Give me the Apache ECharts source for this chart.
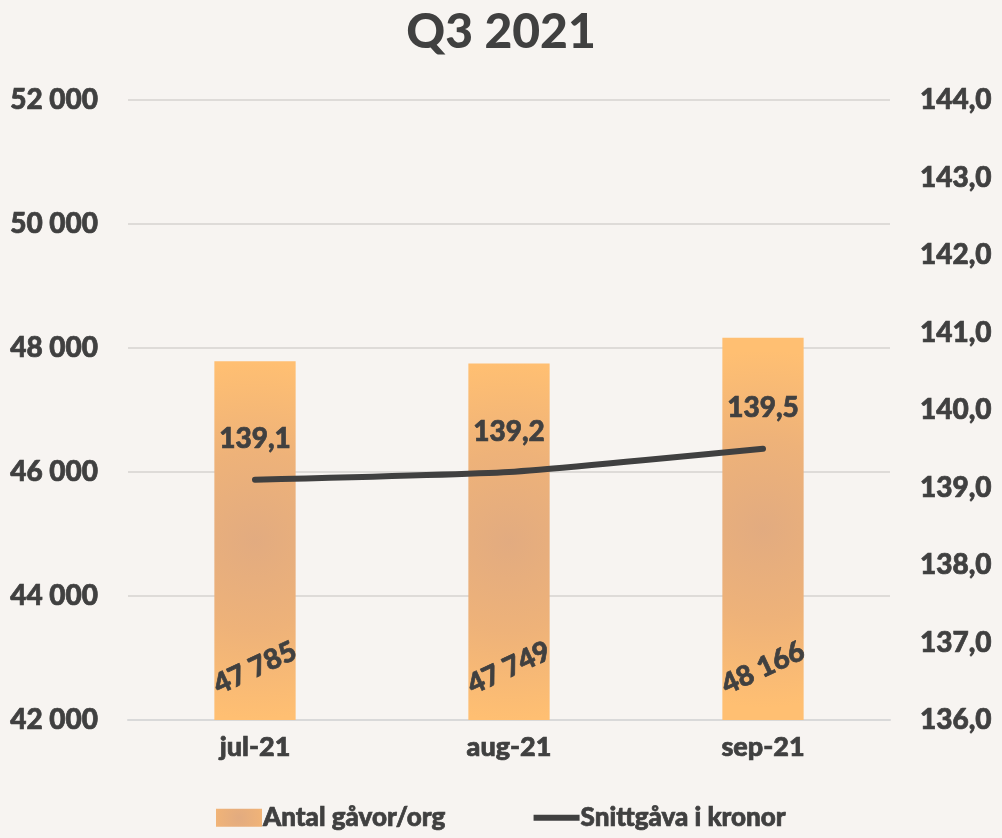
<!DOCTYPE html>
<html>
<head>
<meta charset="utf-8">
<script src="https://cdn.jsdelivr.net/npm/echarts@6/dist/echarts.min.js"></script>
<style>
  html, body { margin: 0; padding: 0; background: #f7f4f1; }
  #chart { width: 1002px; height: 838px; }
</style>
</head>
<body>
<div id="chart"></div>
<script>
var months = ['jul-21', 'aug-21', 'sep-21'];
var antalGavor = [47785, 47749, 48166];
var snittgava = [139.1, 139.2, 139.5];

var FONT = 'Lato';
var TXT = '#404040';

function fmtThousands(v) {
    return String(Math.round(v)).replace(/\B(?=(\d{3})+(?!\d))/g, ' ');
}
function fmtDecimal(v) {
    return Number(v).toFixed(1).replace('.', ',');
}

var barColor = {
    type: 'radial',
    x: 0.5, y: 0.5, r: 2.2,
    colorStops: [
        { offset: 0, color: '#e2ab80' },
        { offset: 0.5, color: '#eeb279' },
        { offset: 1, color: '#ffbf72' }
    ]
};

// thicker strokes to get closer to the heavy Calibri look
var heavy = { textBorderColor: TXT, textBorderWidth: 0.7 };

var option = {
    backgroundColor: '#f7f4f1',
    textStyle: { fontFamily: FONT, fontWeight: 900, color: TXT },
    title: {
        text: 'Q3 2021',
        left: 'center',
        top: 4,
        textStyle: { fontFamily: FONT, fontSize: 48, fontWeight: 900, color: TXT }
    },
    legend: {
        bottom: 2,
        left: 'center',
        itemGap: 88,
        itemWidth: 46,
        itemHeight: 18,
        textStyle: Object.assign({ fontFamily: FONT, fontSize: 26, fontWeight: 900, color: TXT, padding: [0, 0, 0, -4] }, heavy),
        data: [
            { name: 'Antal gåvor/org', icon: 'rect' },
            { name: 'Snittgåva i kronor', icon: 'path://M0,0 L46,0 L46,6 L0,6 Z', itemStyle: { color: '#404040' } }
        ]
    },
    grid: { top: 100, bottom: 118, left: 128, right: 112 },
    xAxis: {
        type: 'category',
        data: months,
        axisLine: { lineStyle: { color: '#d9d9d9', width: 2 } },
        axisTick: { show: false },
        axisLabel: Object.assign({ fontFamily: FONT, fontSize: 27, fontWeight: 900, color: TXT, margin: 14 }, heavy)
    },
    yAxis: [
        {
            type: 'value',
            min: 42000,
            max: 52000,
            interval: 2000,
            axisLine: { show: false },
            axisTick: { show: false },
            splitLine: { lineStyle: { color: '#dedbd8', width: 2 } },
            axisLabel: Object.assign({
                fontFamily: FONT, fontSize: 28, fontWeight: 900, color: TXT, margin: 30,
                formatter: fmtThousands
            }, heavy)
        },
        {
            type: 'value',
            min: 136,
            max: 144,
            interval: 1,
            axisLine: { show: false },
            axisTick: { show: false },
            splitLine: { show: false },
            axisLabel: Object.assign({
                fontFamily: FONT, fontSize: 28, fontWeight: 900, color: TXT, margin: 30,
                formatter: fmtDecimal
            }, heavy)
        }
    ],
    series: [
        {
            name: 'Antal gåvor/org',
            type: 'bar',
            barWidth: '32%',
            yAxisIndex: 0,
            data: antalGavor,
            itemStyle: { color: barColor },
            label: Object.assign({
                show: true,
                position: 'insideBottom',
                distance: 52,
                align: 'center',
                verticalAlign: 'middle',
                rotate: 25,
                fontFamily: FONT, fontSize: 28, fontWeight: 900, color: TXT,
                formatter: function (p) { return fmtThousands(p.value); }
            }, heavy)
        },
        {
            name: 'Snittgåva i kronor',
            type: 'line',
            yAxisIndex: 1,
            data: snittgava,
            smooth: 0.15,
            symbol: 'circle',
            symbolSize: 1,
            showSymbol: true,
            lineStyle: { color: '#404040', width: 6, cap: 'round' },
            itemStyle: { color: '#404040' },
            label: Object.assign({
                show: true,
                position: 'top',
                distance: 26,
                fontFamily: FONT, fontSize: 28, fontWeight: 900, color: TXT,
                formatter: function (p) { return fmtDecimal(p.value); }
            }, heavy)
        }
    ]
};

var myChart = echarts.init(document.getElementById('chart'));
myChart.setOption(option);
</script>
</body>
</html>
